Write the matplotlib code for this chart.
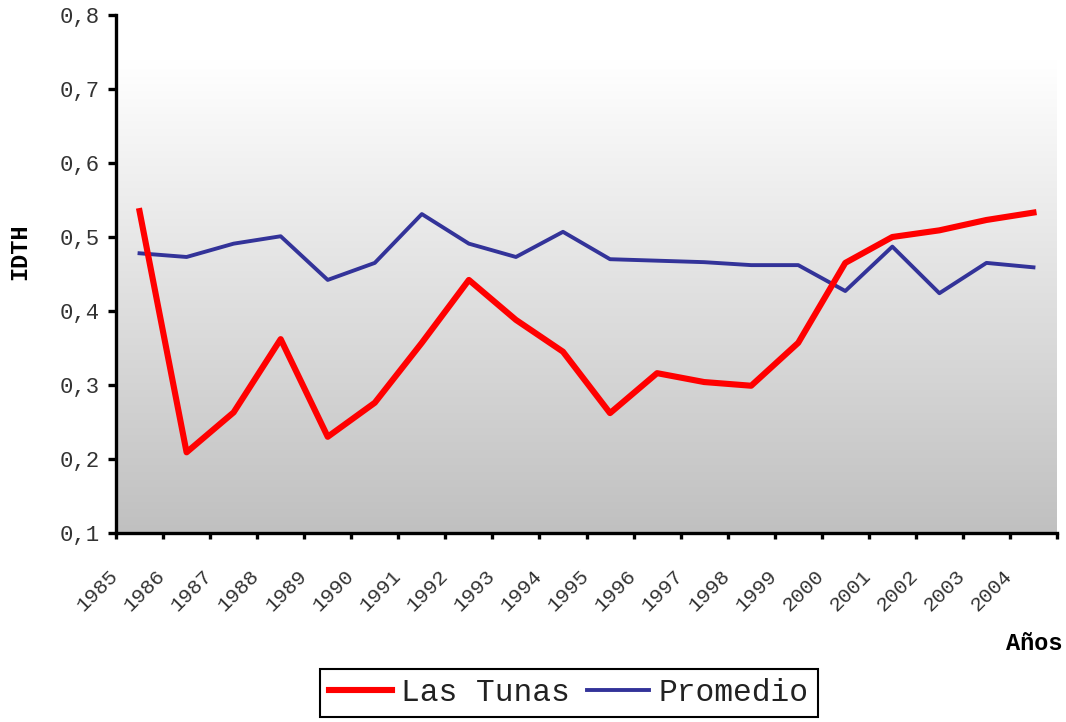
import numpy as np
import matplotlib
matplotlib.use("Agg")
import matplotlib.pyplot as plt
from matplotlib.colors import LinearSegmentedColormap
from matplotlib.transforms import ScaledTranslation

# data
years = [str(y) for y in range(1985, 2005)]
las_tunas = [0.535, 0.209, 0.263, 0.362, 0.230, 0.276, 0.357, 0.442, 0.388, 0.345,
             0.262, 0.316, 0.304, 0.299, 0.357, 0.465, 0.500, 0.509, 0.523, 0.533]
promedio = [0.478, 0.473, 0.491, 0.501, 0.442, 0.465, 0.531, 0.491, 0.473, 0.507,
            0.470, 0.468, 0.466, 0.462, 0.462, 0.427, 0.487, 0.424, 0.465, 0.459]
y_ticks = [0.1, 0.2, 0.3, 0.4, 0.5, 0.6, 0.7, 0.8]

W, H = 1066, 722
fig = plt.figure(figsize=(W / 100, H / 100), dpi=100)
ax = fig.add_axes([116 / W, (H - 533) / H, (1057 - 116) / W, (533 - 15) / H])

mono = "Liberation Mono"

# gradient background: gray at bottom, white near the top
grad = np.linspace(0, 1, 256).reshape(-1, 1)
cmap = LinearSegmentedColormap.from_list("bg", [(0, "#c0c0c0"), (0.91, "#ffffff"), (1, "#ffffff")])
ax.imshow(grad, aspect="auto", cmap=cmap, origin="lower", extent=[0, 1, 0, 1],
          transform=ax.transAxes, zorder=0)

x = np.arange(len(years)) + 0.5
ax.plot(x, las_tunas, color="#ff0000", lw=4.4, label="Las Tunas", zorder=3)
ax.plot(x, promedio, color="#333399", lw=2.8, label="Promedio", zorder=2)

ax.set_xlim(0, len(years))
ax.set_ylim(0.1, 0.8)

for s in ["top", "right"]:
    ax.spines[s].set_visible(False)
for s in ["left", "bottom"]:
    ax.spines[s].set_linewidth(2.4)
    ax.spines[s].set_color("black")

ax.set_yticks(y_ticks)
ax.set_yticklabels([f"{v:.1f}".replace(".", ",") for v in y_ticks], fontfamily=mono, fontsize=16, color="#333333")
ax.tick_params(axis="y", direction="out", length=6, width=2.4, pad=6)

ax.set_xticks(np.arange(len(years) + 1))
ax.set_xticklabels(years + [""], fontfamily=mono, fontsize=15, color="#333333",
                   rotation=45, ha="right", va="top")
ax.tick_params(axis="x", direction="out", length=4, width=2.4, pad=22)
shift = ScaledTranslation(6 / 100, 3 / 100, fig.dpi_scale_trans)
for lab in ax.get_xticklabels():
    lab.set_transform(lab.get_transform() + shift)

fig.text(20 / W, 1 - 252 / H, "IDTH", rotation=90, fontfamily=mono, fontweight="bold",
         fontsize=17, ha="center", va="center")
fig.text(1062 / W, 1 - 643 / H, "Años", fontfamily=mono, fontweight="bold",
         fontsize=17, ha="right", va="center")

leg = fig.legend(loc="center", bbox_to_anchor=(569 / W, 1 - 693 / H), ncol=2,
                 frameon=True, fancybox=False, edgecolor="black", framealpha=1,
                 prop={"family": mono, "size": 22.5}, handlelength=2.0, handletextpad=0.3,
                 columnspacing=0.55, borderpad=0.3, borderaxespad=0)
leg.get_frame().set_linewidth(1.5)
for t in leg.get_texts():
    t.set_color("#222222")

fig.savefig("out.png", dpi=100)
